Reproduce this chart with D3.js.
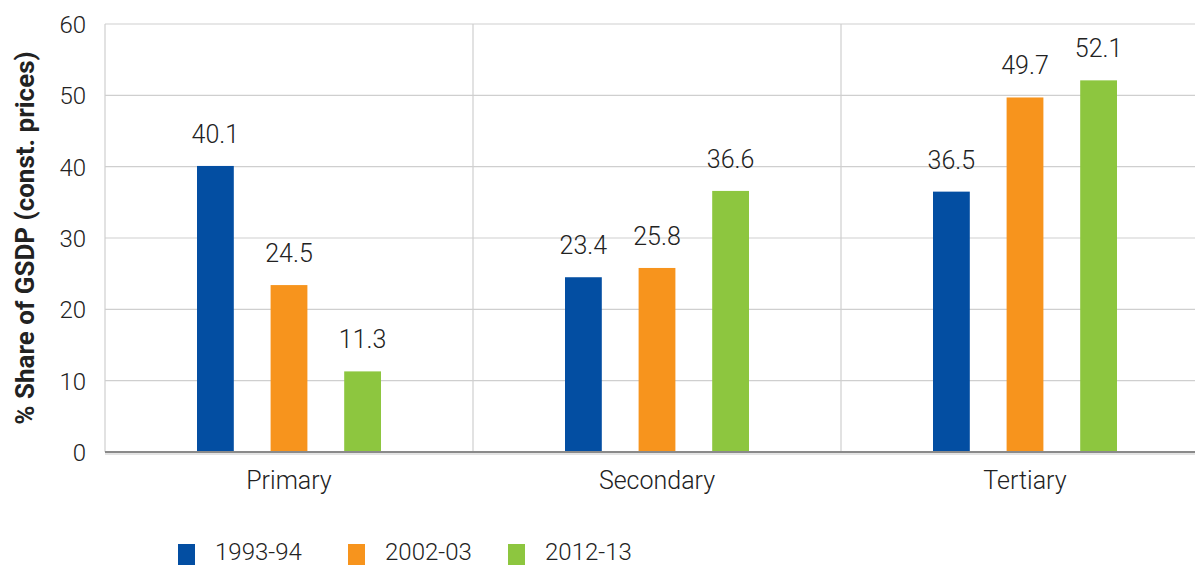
<!DOCTYPE html>
<html>
<head>
<meta charset="utf-8">
<script src="https://cdn.jsdelivr.net/npm/d3@7/dist/d3.min.js"></script>
<style>
  html, body { margin: 0; padding: 0; background: #fff; }
  svg { display: block; font-family: Roboto, "Noto Sans", sans-serif; }
</style>
</head>
<body>
<svg id="chart" width="1195" height="566"></svg>
<script>
// Sector shares of GSDP, three reference years.
const categories = ['Primary', 'Secondary', 'Tertiary'];
const seriesNames = ['1993-94', '2002-03', '2012-13'];
const seriesColors = ['#034ea2', '#f7941d', '#8dc63f'];

// Bar heights as drawn, and the labels printed above them
// (the source swaps two labels, kept as in the picture).
const primaryValues = [40.1, 23.4, 11.3];
const secondaryValues = [24.5, 25.8, 36.6];
const tertiaryValues = [36.5, 49.7, 52.1];
const primaryLabels = ['40.1', '24.5', '11.3'];
const secondaryLabels = ['23.4', '25.8', '36.6'];
const tertiaryLabels = ['36.5', '49.7', '52.1'];
const yTicks = [0, 10, 20, 30, 40, 50, 60];

const values = [primaryValues, secondaryValues, tertiaryValues];
const labels = [primaryLabels, secondaryLabels, tertiaryLabels];

const svg = d3.select('#chart');
const margin = { left: 105, top: 24, bottom: 452 };
const plotRight = 1209; // plot runs past the right edge in the source

const x0 = d3.scaleBand().domain(categories).range([margin.left, plotRight]);
const x1 = d3.scaleBand().domain(seriesNames).range([0, x0.bandwidth()])
    .paddingInner(0.5).paddingOuter(1.25);
const y = d3.scaleLinear().domain([0, 60]).range([margin.bottom, margin.top]);

// horizontal gridlines
svg.append('g').selectAll('line').data(yTicks.filter(d => d > 0)).join('line')
    .attr('x1', margin.left).attr('x2', plotRight)
    .attr('y1', d => y(d)).attr('y2', d => y(d))
    .attr('stroke', '#cfcfcf').attr('stroke-width', 1.2);

// category separators
svg.append('g').selectAll('line').data(categories).join('line')
    .attr('x1', d => x0(d)).attr('x2', d => x0(d))
    .attr('y1', y(60)).attr('y2', y(0))
    .attr('stroke', '#cfcfcf').attr('stroke-width', 1.2);

// tick labels
svg.append('g').selectAll('text').data(yTicks).join('text')
    .attr('x', 86).attr('y', d => y(d) + 9)
    .attr('text-anchor', 'end')
    .attr('font-size', 24).attr('font-weight', 300).attr('fill', '#222')
    .text(d => d);

// bars
const groups = svg.append('g').selectAll('g').data(categories).join('g')
    .attr('transform', d => `translate(${x0(d)},0)`);

groups.selectAll('rect').data((d, i) => values[i].map((v, j) => ({ v, s: seriesNames[j], j })))
    .join('rect')
    .attr('x', d => x1(d.s)).attr('width', x1.bandwidth())
    .attr('y', d => y(d.v)).attr('height', d => y(0) - y(d.v))
    .attr('fill', d => seriesColors[d.j]);

groups.selectAll('text').data((d, i) => values[i].map((v, j) => ({ v, s: seriesNames[j], t: labels[i][j] })))
    .join('text')
    .attr('x', d => x1(d.s) + x1.bandwidth() / 2)
    .attr('y', d => y(d.v) - 23)
    .attr('text-anchor', 'middle')
    .attr('font-size', 25).attr('font-weight', 300).attr('fill', '#222')
    .text(d => d.t);

// baseline
svg.append('line')
    .attr('x1', margin.left).attr('x2', plotRight)
    .attr('y1', y(0)).attr('y2', y(0))
    .attr('stroke', '#8a8a8a').attr('stroke-width', 2);
svg.append('line')
    .attr('x1', margin.left).attr('x2', plotRight)
    .attr('y1', y(0) + 2).attr('y2', y(0) + 2)
    .attr('stroke', '#c8c8c8').attr('stroke-width', 1);

// category labels
svg.append('g').selectAll('text').data(categories).join('text')
    .attr('x', d => x0(d) + x0.bandwidth() / 2).attr('y', 489)
    .attr('text-anchor', 'middle')
    .attr('font-size', 25).attr('font-weight', 300).attr('fill', '#222')
    .text(d => d);

// y axis title
svg.append('text')
    .attr('transform', `translate(34,${(y(0) + y(60)) / 2}) rotate(-90)`)
    .attr('text-anchor', 'middle')
    .attr('font-size', 26).attr('font-weight', 700).attr('fill', '#222')
    .text('% Share of GSDP (const. prices)');

// legend
const legendX = [178, 348, 508];
const legend = svg.append('g').selectAll('g').data(seriesNames).join('g')
    .attr('transform', (d, i) => `translate(${legendX[i]},0)`);
legend.append('rect')
    .attr('x', 0).attr('y', 544).attr('width', 17).attr('height', 21)
    .attr('fill', (d, i) => seriesColors[i]);
legend.append('text')
    .attr('x', 37).attr('y', 560)
    .attr('font-size', 24).attr('font-weight', 300).attr('fill', '#222')
    .text(d => d);
</script>
</body>
</html>
